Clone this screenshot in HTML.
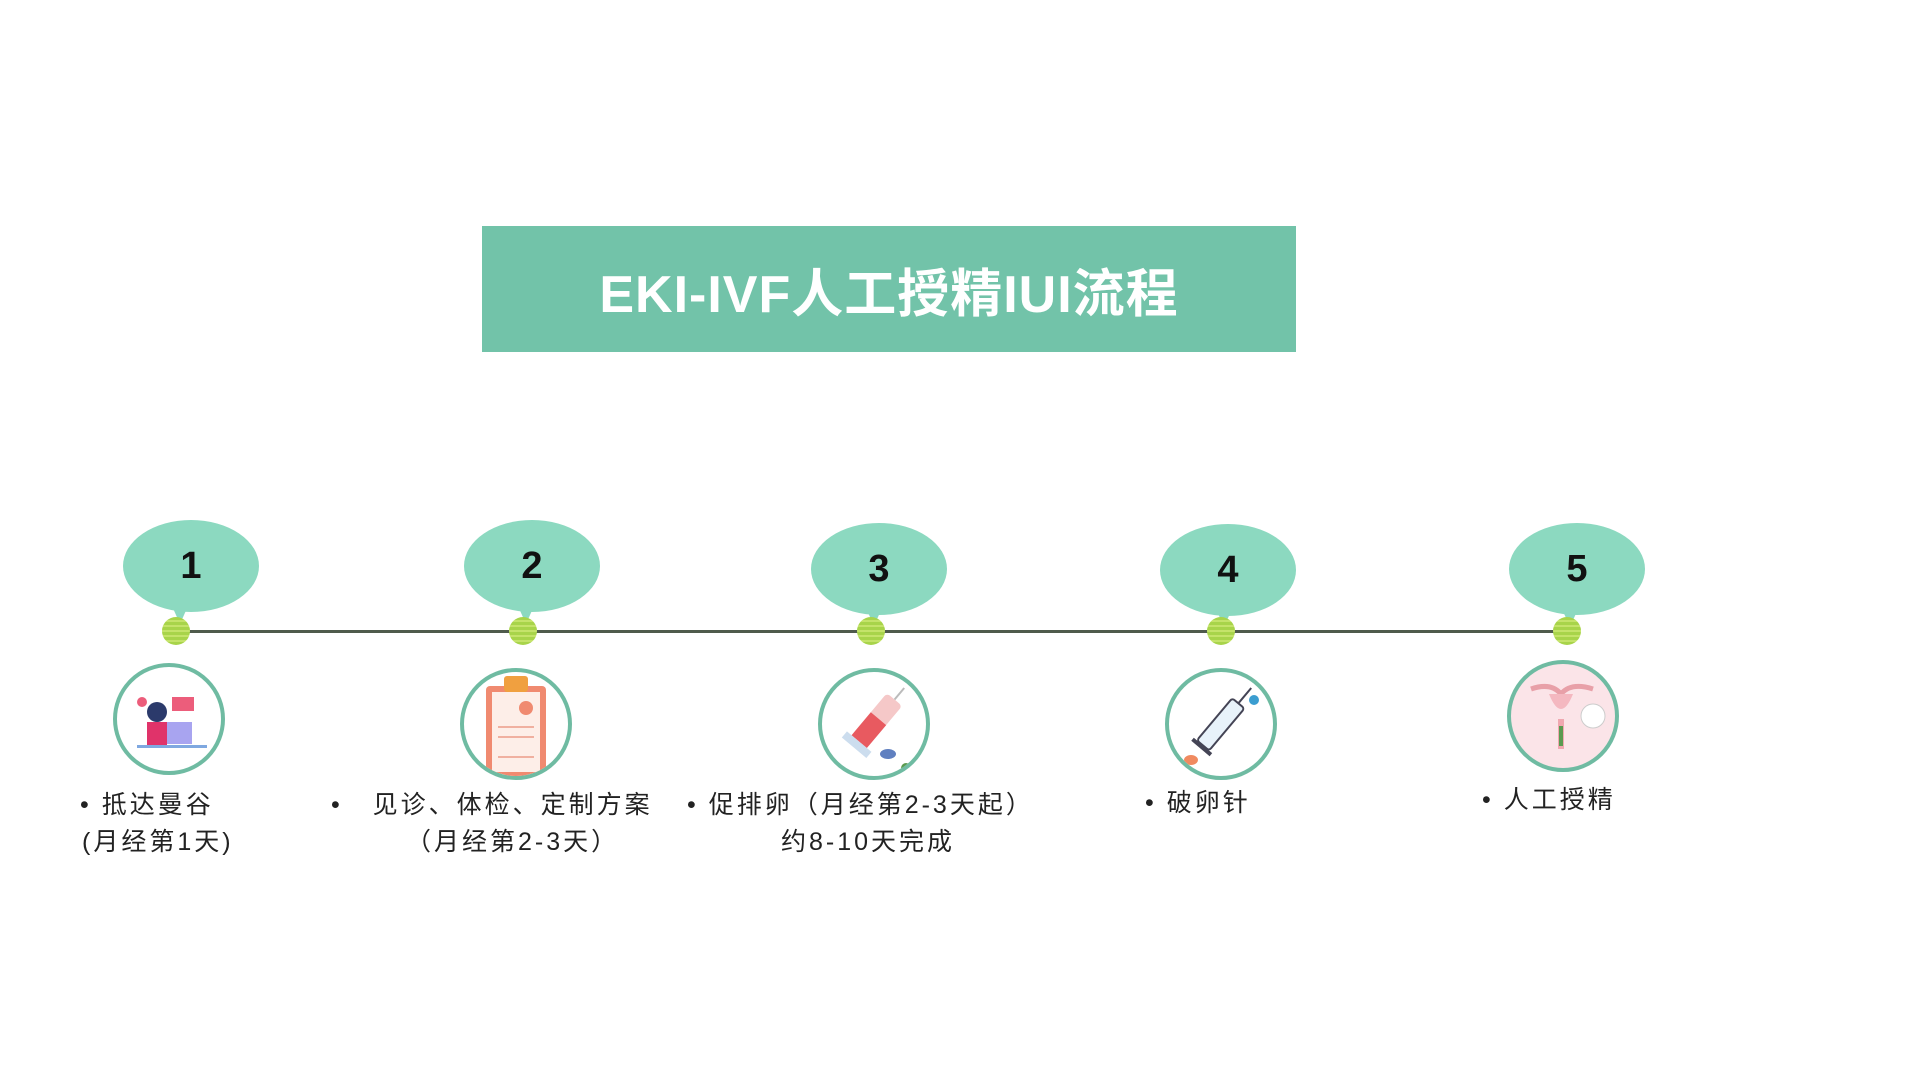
<!DOCTYPE html>
<html><head><meta charset="utf-8"><style>
body{margin:0;width:1920px;height:1080px;background:#fff;position:relative;overflow:hidden;font-family:"Liberation Sans","Noto Sans CJK SC",sans-serif}
.a{position:absolute}
.title{left:482px;top:226px;width:814px;height:126px;background:#72c3a9;color:#fff;font-weight:bold;font-size:52px;letter-spacing:1px;display:flex;align-items:center;justify-content:center}
.line{left:176px;top:630px;width:1391px;height:3px;background:#4f5b4c}
.dot{width:28px;height:28px;border-radius:50%;background:repeating-linear-gradient(0deg,#a8d44a 0 3px,#c4e36a 3px 5px),#b5dc55;margin:-14px 0 0 -14px;top:631px}
.bub{width:136px;height:92px;border-radius:50%;background:#8cd9c0;margin:-46px 0 0 -68px;display:flex;align-items:center;justify-content:center;font-size:38px;font-weight:bold;color:#111;font-family:"Liberation Sans",sans-serif}
.tail{width:0;height:0;border-left:8px solid transparent;border-right:8px solid transparent;border-top:18px solid #8cd9c0}
.cir{width:104px;height:104px;border-radius:50%;border:4px solid #6fbba2;margin:-56px 0 0 -56px;background:#fff;overflow:hidden}
.t{font-size:25px;letter-spacing:3px;color:#222;white-space:nowrap;line-height:1}
</style></head><body>
<div class="a title">EKI-IVF人工授精IUI流程</div>
<div class="a line"></div>

<div class="a bub" style="left:191px;top:566px">1</div>
<div class="a bub" style="left:532px;top:566px">2</div>
<div class="a bub" style="left:879px;top:569px">3</div>
<div class="a bub" style="left:1228px;top:570px">4</div>
<div class="a bub" style="left:1577px;top:569px">5</div>
<div class="a tail" style="left:172px;top:606px"></div>
<div class="a tail" style="left:518px;top:606px"></div>
<div class="a tail" style="left:866px;top:608px"></div>
<div class="a tail" style="left:1216px;top:609px"></div>
<div class="a tail" style="left:1562px;top:609px"></div>

<div class="a dot" style="left:176px"></div>
<div class="a dot" style="left:523px"></div>
<div class="a dot" style="left:871px"></div>
<div class="a dot" style="left:1221px"></div>
<div class="a dot" style="left:1567px"></div>

<div class="a cir" style="left:169px;top:719px"><svg width="104" height="104"><rect x="45" y="55" width="30" height="22" fill="#a8a4f0"/><circle cx="40" cy="45" r="10" fill="#2b3a6b"/><rect x="30" y="55" width="20" height="25" fill="#e0336a"/><rect x="55" y="30" width="22" height="14" fill="#ec5d7b"/><circle cx="25" cy="35" r="5" fill="#ec5d7b"/><rect x="20" y="78" width="70" height="3" fill="#7fa8e0"/></svg></div>
<div class="a cir" style="left:516px;top:724px"><svg width="104" height="104"><rect x="22" y="14" width="60" height="90" rx="4" fill="#f08a70"/><rect x="28" y="20" width="48" height="80" fill="#fdeee8"/><rect x="40" y="4" width="24" height="16" rx="3" fill="#f0a040"/><circle cx="62" cy="36" r="7" fill="#f08a70"/><g stroke="#f0b0a0" stroke-width="2"><line x1="34" y1="55" x2="70" y2="55"/><line x1="34" y1="65" x2="70" y2="65"/><line x1="34" y1="85" x2="70" y2="85"/></g></svg></div>
<div class="a cir" style="left:874px;top:724px"><svg width="104" height="104"><g transform="rotate(40 52 52)"><rect x="42" y="20" width="20" height="55" rx="4" fill="#f5c8c8"/><rect x="42" y="45" width="20" height="30" fill="#e85a60"/><line x1="52" y1="5" x2="52" y2="20" stroke="#bbb" stroke-width="2"/><rect x="36" y="75" width="32" height="8" fill="#cde"/></g><ellipse cx="66" cy="82" rx="8" ry="5" fill="#6080c0"/><circle cx="84" cy="96" r="5" fill="#5a9a50"/></svg></div>
<div class="a cir" style="left:1221px;top:724px"><svg width="104" height="104"><g transform="rotate(40 52 52)"><rect x="44" y="25" width="16" height="55" rx="3" fill="#e8f2fa" stroke="#445" stroke-width="2"/><line x1="52" y1="5" x2="52" y2="25" stroke="#445" stroke-width="2"/><rect x="40" y="80" width="24" height="4" fill="#445"/></g><ellipse cx="22" cy="88" rx="7" ry="5" fill="#f08a60"/><circle cx="85" cy="28" r="5" fill="#3b9dd0"/></svg></div>
<div class="a cir" style="left:1563px;top:716px;background:#fbe4e8"><svg width="104" height="104"><path d="M20 25 Q40 18 50 30 Q60 18 82 25" stroke="#e8a0a8" stroke-width="5" fill="none"/><path d="M38 30 Q50 60 62 30 Z" fill="#f4b8c0"/><rect x="47" y="55" width="6" height="30" fill="#f0a8b0"/><rect x="48" y="62" width="4" height="20" fill="#5a9a50"/><circle cx="82" cy="52" r="12" fill="#fff" stroke="#ccc"/></svg></div>

<div class="a t" style="left:80px;top:793px">• 抵达曼谷</div>
<div class="a t" style="left:82px;top:830px">(月经第1天)</div>
<div class="a t" style="left:331px;top:793px">•&nbsp;&nbsp; 见诊、体检、定制方案</div>
<div class="a t" style="left:406px;top:830px">（月经第2-3天）</div>
<div class="a t" style="left:687px;top:793px">• 促排卵（月经第2-3天起）</div>
<div class="a t" style="left:781px;top:830px">约8-10天完成</div>
<div class="a t" style="left:1145px;top:791px">• 破卵针</div>
<div class="a t" style="left:1482px;top:788px">• 人工授精</div>
</body></html>
